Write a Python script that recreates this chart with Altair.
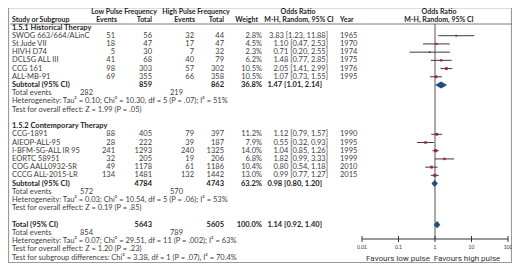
import altair as alt
import pandas as pd

# ---------------- data ----------------
hist_study = ["SWOG 663/664/ALinC", "St Jude VII", "HIVH D74", "DCLSG ALL III", "CCG 161", "ALL-MB-91"]
hist_ev_lo = [51, 18, 5, 41, 98, 69]
hist_tot_lo = [56, 47, 30, 68, 303, 355]
hist_ev_hi = [32, 17, 7, 40, 57, 66]
hist_tot_hi = [44, 47, 32, 79, 302, 358]
hist_weight = [2.8, 4.5, 2.3, 6.2, 10.5, 10.5]
hist_or = [3.83, 1.10, 0.71, 1.48, 2.05, 1.07]
hist_ci_lo = [1.23, 0.47, 0.20, 0.77, 1.41, 0.73]
hist_ci_hi = [11.88, 2.53, 2.55, 2.85, 2.99, 1.55]
hist_year = [1965, 1970, 1974, 1975, 1976, 1995]

cont_study = ["CCG-1891", "AIEOP-ALL-95", "I-BFM-SG-ALL IR 95", "EORTC 58951", "COG AALL0932-SR", "CCCG ALL-2015-LR"]
cont_ev_lo = [88, 28, 241, 32, 49, 134]
cont_tot_lo = [405, 222, 1293, 205, 1178, 1481]
cont_ev_hi = [79, 39, 240, 19, 61, 132]
cont_tot_hi = [397, 187, 1325, 206, 1186, 1442]
cont_weight = [11.2, 7.9, 14.0, 6.8, 10.4, 13.0]
cont_or = [1.12, 0.55, 1.04, 1.82, 0.80, 0.99]
cont_ci_lo = [0.79, 0.32, 0.85, 0.99, 0.54, 0.77]
cont_ci_hi = [1.57, 0.93, 1.26, 3.33, 1.18, 1.27]
cont_year = [1990, 1995, 1995, 1999, 2010, 2015]

section_labels = ["1.5.1 Historical Therapy", "1.5.2 Contemporary Therapy"]
sub_labels = ["Subtotal (95% CI)", "Subtotal (95% CI)", "Total (95% CI)"]
sub_tot_lo = [859, 4784, 5643]
sub_tot_hi = [862, 4743, 5605]
sub_weight = [36.8, 63.2, 100.0]
sub_or = [1.47, 0.98, 1.14]
sub_ci_lo = [1.01, 0.80, 0.92]
sub_ci_hi = [2.14, 1.20, 1.40]
total_ev_lo = [282, 572, 854]
total_ev_hi = [219, 570, 789]
notes_hist = ["Heterogeneity: Tau\u00b2 = 0.10; Chi\u00b2 = 10.30, df = 5 (P = .07); I\u00b2 = 51%",
              "Test for overall effect: Z = 1.99 (P = .05)"]
notes_cont = ["Heterogeneity: Tau\u00b2 = 0.03; Chi\u00b2 = 10.54, df = 5 (P = .06); I\u00b2 = 53%",
              "Test for overall effect: Z = 0.19 (P = .85)"]
notes_total = ["Heterogeneity: Tau\u00b2 = 0.07; Chi\u00b2 = 29.51, df = 11 (P = .002); I\u00b2 = 63%",
               "Test for overall effect: Z = 1.20 (P = .23)",
               "Test for subgroup differences: Chi\u00b2 = 3.38, df = 1 (P = .07), I\u00b2 = 70.4%"]
tick_vals = [0.01, 0.1, 1, 10, 100]
tick_labels = ["0.01", "0.1", "1", "10", "100"]
favour_labels = ["Favours low pulse", "Favours high pulse"]

# ---------------- tables ----------------
def ci_text(o, l, h):
    return f"{o:.2f} [{l:.2f}, {h:.2f}]"

hist_rows = list(range(3, 9))
cont_rows = list(range(15, 21))
sub_rows = [9, 21, 26]
ev_rows = [10, 22, 27]
sec_rows = [2, 14]

studies = pd.DataFrame({
    "row": hist_rows + cont_rows,
    "study": hist_study + cont_study,
    "ev_lo": hist_ev_lo + cont_ev_lo,
    "tot_lo": hist_tot_lo + cont_tot_lo,
    "ev_hi": hist_ev_hi + cont_ev_hi,
    "tot_hi": hist_tot_hi + cont_tot_hi,
    "weight": hist_weight + cont_weight,
    "or": hist_or + cont_or,
    "lo": hist_ci_lo + cont_ci_lo,
    "hi": hist_ci_hi + cont_ci_hi,
    "year": hist_year + cont_year,
})
studies["w_txt"] = studies["weight"].map(lambda w: f"{w:.1f}%")
studies["ci_txt"] = [ci_text(o, l, h) for o, l, h in zip(studies["or"], studies["lo"], studies["hi"])]

subs = pd.DataFrame({
    "row": sub_rows, "label": sub_labels, "tot_lo": sub_tot_lo, "tot_hi": sub_tot_hi,
    "w_txt": [f"{w:.1f}%" for w in sub_weight],
    "ci_txt": [ci_text(o, l, h) for o, l, h in zip(sub_or, sub_ci_lo, sub_ci_hi)],
})
evs = pd.DataFrame({"row": ev_rows, "label": ["Total events"] * 3, "ev_lo": total_ev_lo, "ev_hi": total_ev_hi})
secs = pd.DataFrame({"row": sec_rows, "label": section_labels})
notes = pd.DataFrame({"row": [11, 12, 23, 24, 28, 29, 30], "label": notes_hist + notes_cont + notes_total})

diam_pts = []
for g, (r, o, l, h) in enumerate(zip(sub_rows, sub_or, sub_ci_lo, sub_ci_hi)):
    diam_pts += [
        {"g": g, "x": l, "ya": r, "yb": r},
        {"g": g, "x": o, "ya": r - 0.43, "yb": r + 0.43},
        {"g": g, "x": h, "ya": r, "yb": r},
    ]
diamonds = pd.DataFrame(diam_pts)
ticks = pd.DataFrame({"v": tick_vals, "lab": tick_labels})
axis_span = pd.DataFrame({"a": [tick_vals[0]], "b": [tick_vals[-1]]})
one = pd.DataFrame({"v": [1]})

# ---------------- style ----------------
FONT = "Lato"
FS = 7.5
HFS = 7
TXT = "#404040"
DARK = "#1e1e1e"
YS = alt.Scale(domain=[2, 30], range=[19.5, 249.5], nice=False, zero=False)
XS = alt.Scale(type="log", domain=[0.01, 100], range=[354, 500], nice=False)
Y = alt.Y("row:Q", scale=YS, axis=None)
P = lambda px: px - 8  # page px -> plot px


def col(df, field, x, align="right", bold=False, color=TXT):
    return alt.Chart(df).mark_text(
        align=align, baseline="middle", font=FONT, fontSize=FS,
        fontWeight="bold" if bold else "normal", color=DARK if bold else color
    ).encode(x=alt.value(P(x)), y=Y, text=alt.Text(f"{field}:N"))


def label(text, x, y, align="center", bold=True, size=HFS, color=DARK, font=FONT):
    return alt.Chart(one).mark_text(
        text=text, align=align, baseline="middle", font=font, fontSize=size,
        fontWeight="bold" if bold else "normal", color=color
    ).encode(x=alt.value(P(x)), y=alt.value(y))


def hline(x1, x2, y, color="#777", w=1.0):
    return alt.Chart(one).mark_rule(color=color, strokeWidth=w).encode(
        x=alt.value(x1), x2=alt.value(x2), y=alt.value(y))


def vline(x, y1, y2, color="#999", w=1.0):
    return alt.Chart(one).mark_rule(color=color, strokeWidth=w).encode(
        x=alt.value(x), y=alt.value(y1), y2=alt.value(y2))


R0, R1 = 4.2, 11.8  # header text rows (plot px)
layers = [
    # frame
    vline(0.5, 0, 255, "#9a9a9a", 1.2),
    vline(503.5, 0, 255, "#9a9a9a", 1.2),
    hline(0, 504, 254.5, "#9a9a9a", 1.2),
    # header
    label("Low Pulse Frequency", 124, R0),
    label("High Pulse Frequency", 196, R0),
    label("Odds Ratio", 298, R0),
    label("Odds Ratio", 439, R0),
    label("Study or Subgroup", 12, R1, align="left"),
    label("Events", 117, R1, align="right"),
    label("Total", 152, R1, align="right"),
    label("Events", 195, R1, align="right"),
    label("Total", 224, R1, align="right"),
    label("Weight", 258, R1, align="right"),
    label("M-H, Random, 95% CI", 299, R1),
    label("Year", 340, R1, align="left"),
    label("M-H, Random, 95% CI", 439, R1),
    hline(2, 504, 16, "#7a7a7a", 1.0),
    # sections
    col(secs, "label", 12, "left", bold=True),
    # study rows
    col(studies, "study", 12, "left"),
    col(studies, "ev_lo", 115),
    col(studies, "tot_lo", 152),
    col(studies, "ev_hi", 194),
    col(studies, "tot_hi", 224),
    col(studies, "w_txt", 262),
    col(studies, "ci_txt", 328),
    col(studies, "year", 340, "left"),
    # subtotal rows
    col(subs, "label", 12, "left", bold=True),
    col(subs, "tot_lo", 152, bold=True),
    col(subs, "tot_hi", 224, bold=True),
    col(subs, "w_txt", 262, bold=True),
    col(subs, "ci_txt", 322, bold=True),
    # total events
    col(evs, "label", 12, "left"),
    col(evs, "ev_lo", 93),
    col(evs, "ev_hi", 183),
    # notes
    col(notes, "label", 12, "left"),
    # forest: null line
    alt.Chart(one).mark_rule(color="#555", strokeWidth=1).encode(
        x=alt.X("v:Q", scale=XS, axis=None), y=alt.value(16), y2=alt.value(231)),
    # CIs
    alt.Chart(studies).mark_rule(color="#3a3a3a", strokeWidth=1).encode(
        x=alt.X("lo:Q", scale=XS, axis=None), x2="hi:Q", y=Y),
    alt.Chart(studies).mark_square(color="#a8222c", opacity=1).encode(
        x=alt.X("or:Q", scale=XS, axis=None), y=Y,
        size=alt.Size("weight:Q", scale=alt.Scale(domain=[2, 15], range=[3, 10]), legend=None)),
    # diamonds
    alt.Chart(diamonds).mark_area(orient="vertical", color="#1d4f86", opacity=1).encode(
        x=alt.X("x:Q", scale=XS, axis=None), y=alt.Y("ya:Q", scale=YS, axis=None), y2="yb:Q",
        detail="g:N"),
    # axis
    alt.Chart(axis_span).mark_rule(color="#333", strokeWidth=1).encode(
        x=alt.X("a:Q", scale=XS, axis=None), x2="b:Q", y=alt.value(231)),
    alt.Chart(ticks).mark_rule(color="#333", strokeWidth=1).encode(
        x=alt.X("v:Q", scale=XS, axis=None), y=alt.value(228), y2=alt.value(234)),
    alt.Chart(ticks).mark_text(font=FONT, fontSize=5, color="#333", baseline="middle").encode(
        x=alt.X("v:Q", scale=XS, axis=None), y=alt.value(239), text="lab:N"),
    label(favour_labels[0], 398, 251, bold=False, size=8, color="#333", font="Roboto"),
    label(favour_labels[1], 467, 251, bold=False, size=8, color="#333", font="Roboto"),
]

chart = alt.layer(*layers).properties(
    width=504, height=255, padding=0, autosize=alt.AutoSizeParams(type="none")
).configure_view(strokeWidth=0).configure(background="white")

chart.save("out.html", embed_options={"renderer": "svg", "actions": False})
